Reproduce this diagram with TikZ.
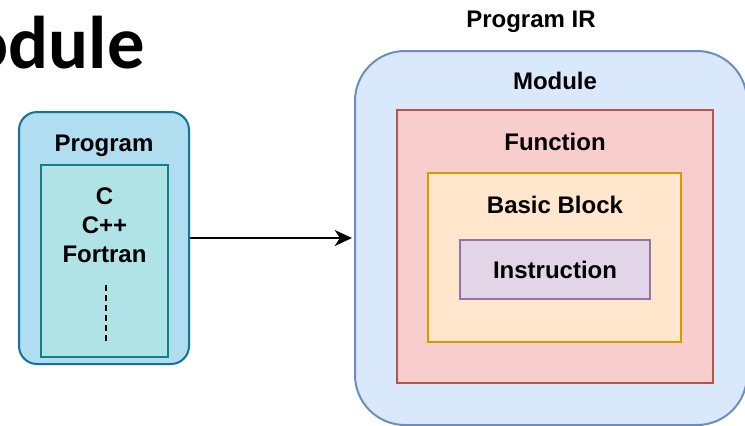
\documentclass[tikz,border=0pt]{standalone}
\usepackage{fontspec}
\setmainfont{Liberation Sans}
\newfontfamily\headfont{Carlito}
\usetikzlibrary{arrows.meta, positioning}
\definecolor{progfill}{HTML}{B1DDF0}
\definecolor{progline}{HTML}{10739E}
\definecolor{langfill}{HTML}{B0E3E6}
\definecolor{langline}{HTML}{0E8088}
\definecolor{modfill}{HTML}{DAE8FC}
\definecolor{modline}{HTML}{6C8EBF}
\definecolor{funcfill}{HTML}{F8CECC}
\definecolor{funcline}{HTML}{B85450}
\definecolor{bbfill}{HTML}{FFE6CC}
\definecolor{bbline}{HTML}{D79B00}
\definecolor{instrfill}{HTML}{E1D5E7}
\definecolor{instrline}{HTML}{9673A6}

\begin{document}
\begin{tikzpicture}[
            x=0.75pt, y=-0.75pt,
            box/.style={
                rectangle,
                draw,
                line width=1.5pt,
                inner sep=0pt
            },
            title/.style={
                anchor=base,
                inner sep=0pt,
                font=\bfseries\fontsize{18}{21.75}\selectfont,
                align=center
            },
            arrow/.style={
                -{Stealth[length=13pt, width=12pt, inset=4pt]},
                line width=1.5pt,
                shorten >=1.5pt
            }
        ]
        \useasboundingbox (0,0) rectangle (745,425);

        % Slide heading, cut off at the left edge
        \node (heading) [anchor=base east, inner sep=0pt, font=\headfont\bfseries\fontsize{56}{60}\selectfont] at (145,68) {Module};

        % Source program
        \node (prog) [box, fill=progfill, draw=progline, rounded corners=13.5pt,
            minimum width=127.5pt, minimum height=189pt] at (104,238) {};
        \node (lang) [box, fill=langfill, draw=langline,
            minimum width=95.25pt, minimum height=144pt] at (104.5,261) {};
        \node (progtitle) [title] at (104,151) {Program};
        \node (langs) [title] at (104.5,262) {C\\C++\\Fortran};
        \coordinate (dots top) at (106,285);
        \coordinate (dots bottom) at (106,342);
        \draw[line width=1.5pt, dash pattern=on 4.5pt off 3pt] (dots top) -- (dots bottom);

        % Program IR, nested boxes
        \node (irtitle) [title] at (531,27) {Program IR};
        \node (module) [box, fill=modfill, draw=modline, rounded corners=37.5pt,
            minimum width=294pt, minimum height=280.5pt] at (551,238) {};
        \node (func) [box, fill=funcfill, draw=funcline,
            minimum width=237pt, minimum height=204.75pt] at (555,246.5) {};
        \node (bb) [box, fill=bbfill, draw=bbline,
            minimum width=189.75pt, minimum height=126.75pt] at (554.5,257.5) {};
        \node (instr) [box, fill=instrfill, draw=instrline,
            minimum width=142.5pt, minimum height=44.25pt,
            font=\bfseries\fontsize{18}{21.75}\selectfont] at (555,269.5) {Instruction};
        \node (modtitle) [title] at (555,89) {Module};
        \node (functitle) [title] at (555,150) {Function};
        \node (bbtitle) [title] at (555,213) {Basic Block};

        % Translation arrow
        \draw[arrow] (prog) -- (module);

        \end{tikzpicture}
\end{document}
